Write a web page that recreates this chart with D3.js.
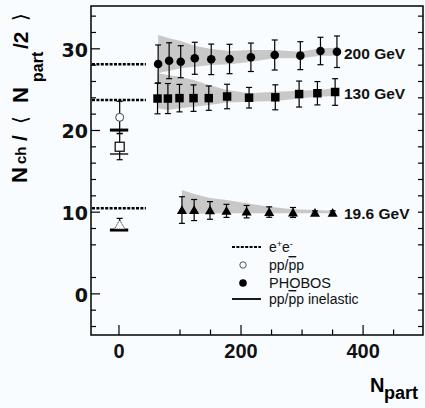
<!DOCTYPE html>
<html>
<head>
<meta charset="utf-8">
<script src="https://cdn.jsdelivr.net/npm/d3@7"></script>
<style>
  html, body { margin: 0; padding: 0; background: #f8fcfe; }
  svg { display: block; }
</style>
</head>
<body>
<div id="chart"></div>
<script>
// PHOBOS charged multiplicity per participant pair vs Npart

const npart200 = [65, 83, 102, 125, 152, 182, 217, 256, 298, 331, 358];
const nch200 = [28.08, 28.48, 28.36, 28.78, 28.65, 28.69, 28.9, 29.18, 29.1, 29.67, 29.58];
const err200 = [2.33, 2.2, 1.96, 1.96, 1.87, 1.8, 1.74, 1.84, 1.71, 1.68, 1.93];
const band200Hi = [31.63, 31.22, 30.89, 30.31, 29.91, 29.67, 29.79, 29.79, 29.58, 30.0, 30.07];
const band200Lo = [26.98, 27.26, 27.56, 27.75, 27.96, 28.05, 28.36, 28.78, 28.78, 29.1, 29.1];

const npart130 = [64, 81, 100, 123, 148, 178, 214, 257, 296, 326, 355];
const nch130 = [23.85, 23.85, 23.9, 23.9, 23.9, 24.1, 23.95, 24.0, 24.4, 24.5, 24.65];
const err130 = [1.87, 1.84, 1.68, 1.62, 1.49, 1.5, 1.26, 1.53, 1.59, 1.43, 1.63];
const band130Hi = [26.98, 26.73, 26.52, 26.12, 25.5, 24.9, 24.49, 24.69, 24.81, 24.9, 25.1];
const band130Lo = [22.65, 22.45, 22.65, 22.84, 23.05, 23.38, 23.45, 23.54, 23.87, 24.07, 24.16];

const npart19 = [104, 124, 150, 177, 210, 247, 286, 322, 351];
const nch19 = [10.2, 10.2, 10.15, 10.1, 10.0, 9.95, 9.9, 9.85, 9.85];
const err19 = [1.63, 1.29, 1.08, 0.8, 0.76, 0.64, 0.61, 0.25, 0.25];
const band19Hi = [12.65, 12.16, 11.67, 11.43, 11.02, 10.6, 10.29, 10.2, 10.12];
const band19Lo = [9.71, 9.75, 9.78, 9.8, 9.8, 9.8, 9.8, 9.8, 9.8];

const energyLabels = ["200 GeV", "130 GeV", "19.6 GeV"];
const eeValues = [28.05, 23.67, 10.41];
const eeSpan = [-45, 45];

const ppNpart = 2;
const ppValues = [21.55, 17.95, 8.36];
const ppErrors = [1.96, 1.59, 0.82];
const ppInelastic = [19.99, 17.06, 7.75];
const ppLineSpan = [-14, 16];

const xMajorTicks = [0, 200, 400];
const xMinorTicks = [100, 150, 250, 300, 350, 450];
const yMajorTicks = [0, 10, 20, 30];
const yMinorTicks = [-4, -2, 2, 6, 8, 12, 14, 16, 18, 22, 24, 26, 28, 32, 34];

const legendItems = ["e+e-", "pp/p̄p", "PHOBOS", "pp/p̄p inelastic"];

const width = 425, height = 408;
const plot = { left: 91, right: 423, top: 6, bottom: 335 };

const svg = d3.select("#chart").append("svg")
  .attr("width", width)
  .attr("height", height)
  .style("background", "#f8fcfe");

const x = d3.scaleLinear().domain([-45, 499]).range([plot.left, plot.right]);
const y = d3.scaleLinear().domain([-5.1, 35.18]).range([plot.bottom, plot.top]);

const bg = "#f8fcfe";
const band = "#c8c8c8";

// systematic bands
const area = d3.area()
  .x(d => x(d.n))
  .y0(d => y(d.lo))
  .y1(d => y(d.hi));

const series = [
  { n: npart200, v: nch200, e: err200, hi: band200Hi, lo: band200Lo, sym: d3.symbolCircle, size: 58 },
  { n: npart130, v: nch130, e: err130, hi: band130Hi, lo: band130Lo, sym: d3.symbolSquare, size: 72 },
  { n: npart19, v: nch19, e: err19, hi: band19Hi, lo: band19Lo, sym: d3.symbolTriangle, size: 44 }
];

series.forEach(s => {
  const pts = s.n.map((n, i) => ({ n, hi: s.hi[i], lo: s.lo[i] }));
  svg.append("path")
    .datum(pts)
    .attr("d", area)
    .attr("fill", band);
});

// e+e- reference levels
svg.append("g").selectAll("line")
  .data(eeValues)
  .join("line")
  .attr("x1", x(eeSpan[0]) + 1)
  .attr("x2", x(eeSpan[1]))
  .attr("y1", d => y(d))
  .attr("y2", d => y(d))
  .attr("stroke", "#000")
  .attr("stroke-width", 2.6)
  .attr("stroke-dasharray", "3,1.4");

// PHOBOS points with error bars
const capW = 3;
series.forEach(s => {
  const g = svg.append("g");
  const pts = s.n.map((n, i) => ({ n, v: s.v[i], e: s.e[i] }));

  g.selectAll("line.stem")
    .data(pts)
    .join("line")
    .attr("class", "stem")
    .attr("x1", d => x(d.n))
    .attr("x2", d => x(d.n))
    .attr("y1", d => y(d.v + d.e))
    .attr("y2", d => y(d.v - d.e))
    .attr("stroke", "#000")
    .attr("stroke-width", 1.2);

  [1, -1].forEach(sign => {
    g.selectAll("line.cap" + (sign > 0 ? "u" : "d"))
      .data(pts)
      .join("line")
      .attr("x1", d => x(d.n) - capW)
      .attr("x2", d => x(d.n) + capW)
      .attr("y1", d => y(d.v + sign * d.e))
      .attr("y2", d => y(d.v + sign * d.e))
      .attr("stroke", "#000")
      .attr("stroke-width", 1.2);
  });

  g.selectAll("path.mark")
    .data(pts)
    .join("path")
    .attr("class", "mark")
    .attr("transform", d => `translate(${x(d.n)},${y(d.v) + (s.sym === d3.symbolTriangle ? 1 : 0)})`)
    .attr("d", d3.symbol().type(s.sym).size(s.size))
    .attr("fill", "#000");
});

// energy labels
const labelAt = [nch200[nch200.length - 1], nch130[nch130.length - 1], nch19[nch19.length - 1]];
svg.append("g").selectAll("text")
  .data(energyLabels)
  .join("text")
  .attr("x", 344)
  .attr("y", (d, i) => y(labelAt[i]) + [7, 7, 6][i])
  .attr("font-family", "Liberation Sans, Arial, sans-serif")
  .attr("font-weight", "bold")
  .attr("font-size", "15.5px")
  .attr("fill", "#111")
  .text(d => d);

// pp / ppbar reference points at Npart = 2
const pp = svg.append("g");
const px = x(ppNpart);

ppValues.forEach((v, i) => {
  const top = y(v + ppErrors[i]);
  const bot = y(v - ppErrors[i]);
  pp.append("line")
    .attr("x1", px).attr("x2", px)
    .attr("y1", top).attr("y2", i === 2 ? y(ppInelastic[2]) : bot)
    .attr("stroke", "#000").attr("stroke-width", 1.2);
  pp.append("line")
    .attr("x1", px - capW).attr("x2", px + capW)
    .attr("y1", top).attr("y2", top)
    .attr("stroke", "#000").attr("stroke-width", 1.2);
  if (i !== 2) {
    pp.append("line")
      .attr("x1", px - capW).attr("x2", px + capW)
      .attr("y1", bot).attr("y2", bot)
      .attr("stroke", "#000").attr("stroke-width", 1.2);
  }
});

ppInelastic.forEach((v, i) => {
  pp.append("line")
    .attr("x1", x(ppLineSpan[0])).attr("x2", x(ppLineSpan[1]))
    .attr("y1", y(v)).attr("y2", y(v))
    .attr("stroke", "#000")
    .attr("stroke-width", i === 1 ? 1.3 : 3);
});

pp.append("circle")
  .attr("cx", px).attr("cy", y(ppValues[0])).attr("r", 4)
  .attr("fill", bg).attr("stroke", "#444").attr("stroke-width", 1);

pp.append("rect")
  .attr("x", px - 4.5).attr("y", y(ppValues[1]) - 4.5)
  .attr("width", 9).attr("height", 9)
  .attr("fill", bg).attr("stroke", "#000").attr("stroke-width", 1.2);

pp.append("path")
  .attr("transform", `translate(${px},${y(ppValues[2]) + 1})`)
  .attr("d", d3.symbol().type(d3.symbolTriangle).size(48))
  .attr("fill", bg).attr("stroke", "#333").attr("stroke-width", 1)
  .attr("stroke-dasharray", "1.5,1");

// legend
const leg = svg.append("g").attr("transform", "translate(232,0)");
const rowY = [247, 265, 283, 299];
const legFont = "Liberation Sans, Arial, sans-serif";

leg.append("line")
  .attr("x1", 0).attr("x2", 29).attr("y1", rowY[0]).attr("y2", rowY[0])
  .attr("stroke", "#000").attr("stroke-width", 2)
  .attr("stroke-dasharray", "3,1.4");
leg.append("circle")
  .attr("cx", 11).attr("cy", rowY[1]).attr("r", 3.2)
  .attr("fill", bg).attr("stroke", "#444").attr("stroke-width", 0.9);
leg.append("circle")
  .attr("cx", 11).attr("cy", rowY[2]).attr("r", 3.8)
  .attr("fill", "#000");
leg.append("line")
  .attr("x1", 0).attr("x2", 29).attr("y1", rowY[3]).attr("y2", rowY[3])
  .attr("stroke", "#000").attr("stroke-width", 1.8);

const e1 = leg.append("text")
  .attr("x", 37).attr("y", rowY[0] + 5)
  .attr("font-family", legFont).attr("font-size", "14px").attr("fill", "#111");
e1.append("tspan").text("e");
e1.append("tspan").attr("dy", -5).attr("font-size", "9px").text("+");
e1.append("tspan").attr("dy", 5).text("e");
e1.append("tspan").attr("dy", -5).attr("font-size", "9px").text("-");

[1, 3].forEach(r => {
  const t = leg.append("text")
    .attr("x", 37).attr("y", rowY[r] + 5)
    .attr("font-family", legFont).attr("font-size", "14px").attr("fill", "#111");
  t.append("tspan").text("pp/");
  t.append("tspan").style("text-decoration", "overline").text("p");
  t.append("tspan").text(r === 1 ? "p" : "p inelastic");
});

leg.append("text")
  .attr("x", 37).attr("y", rowY[2] + 5)
  .attr("font-family", legFont).attr("font-size", "14.5px").attr("fill", "#111")
  .text(legendItems[2]);

// axes, ticks inside the frame
const tickFont = "DejaVu Sans, sans-serif";

const yLeft = svg.append("g")
  .attr("transform", `translate(${plot.left},0)`)
  .call(d3.axisLeft(y).tickValues(yMajorTicks).tickSize(-9).tickPadding(3).tickFormat(d3.format("d")));
yLeft.select(".domain").remove();
yLeft.selectAll("text")
  .attr("font-family", tickFont).attr("font-weight", "bold").attr("font-size", "19px")
  .attr("fill", "#111").attr("dy", "0.42em");

svg.append("g")
  .attr("transform", `translate(${plot.left},0)`)
  .call(d3.axisLeft(y).tickValues(yMinorTicks).tickSize(-5).tickFormat(""))
  .select(".domain").remove();

svg.append("g")
  .attr("transform", `translate(${plot.right},0)`)
  .call(d3.axisRight(y).tickValues(yMajorTicks.concat(yMinorTicks)).tickSize(-5).tickFormat(""))
  .select(".domain").remove();

const xBottom = svg.append("g")
  .attr("transform", `translate(0,${plot.bottom})`)
  .call(d3.axisBottom(x).tickValues(xMajorTicks).tickSize(-10).tickPadding(9).tickFormat(d3.format("d")));
xBottom.select(".domain").remove();
xBottom.selectAll("text")
  .attr("font-family", "Liberation Sans, Arial, sans-serif").attr("font-weight", "bold")
  .attr("font-size", "20px").attr("fill", "#111");

svg.append("g")
  .attr("transform", `translate(0,${plot.bottom})`)
  .call(d3.axisBottom(x).tickValues(xMinorTicks).tickSize(-5.5).tickFormat(""))
  .select(".domain").remove();

svg.selectAll(".tick line").attr("stroke", "#000").attr("stroke-width", 1.2);

svg.append("rect")
  .attr("x", plot.left).attr("y", plot.top)
  .attr("width", plot.right - plot.left).attr("height", plot.bottom - plot.top)
  .attr("fill", "none").attr("stroke", "#000").attr("stroke-width", 1.5);

// axis titles
const titleFont = "Liberation Sans, Arial, sans-serif";
const xt = svg.append("g");
xt.append("text")
  .attr("x", 370).attr("y", 392)
  .attr("font-family", titleFont).attr("font-weight", "bold").attr("font-size", "20px")
  .attr("fill", "#000").text("N");
xt.append("text")
  .attr("x", 384).attr("y", 398.5)
  .attr("font-family", titleFont).attr("font-weight", "bold").attr("font-size", "18px")
  .attr("fill", "#000").text("part");

const yt = svg.append("g").attr("transform", "translate(0,183) rotate(-90)");
const ytPieces = [
  { t: "N", x: 0, y: 27, s: 22, f: titleFont },
  { t: "ch", x: 19, y: 26, s: 15, f: titleFont },
  { t: "/", x: 42, y: 27, s: 21, f: titleFont },
  { t: "⟨", x: 59, y: 27, s: 20, f: "DejaVu Sans, sans-serif", w: "normal" },
  { t: "N", x: 80, y: 28, s: 22, f: titleFont },
  { t: "part", x: 101, y: 43, s: 16, f: titleFont },
  { t: "/2", x: 134, y: 28, s: 21, f: titleFont },
  { t: "⟩", x: 162, y: 27, s: 20, f: "DejaVu Sans, sans-serif", w: "normal" }
];
yt.selectAll("text")
  .data(ytPieces)
  .join("text")
  .attr("x", d => d.x)
  .attr("y", d => d.y)
  .attr("font-family", d => d.f)
  .attr("font-weight", d => d.w || "bold")
  .attr("font-size", d => d.s + "px")
  .attr("fill", "#000")
  .text(d => d.t);
</script>
</body>
</html>
